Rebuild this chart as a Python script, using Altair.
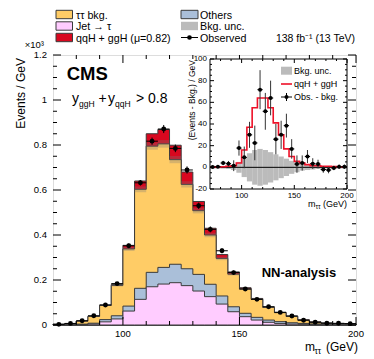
import altair as alt
import numpy as np
import pandas as pd

# ---------------- data ----------------
bin_low = [70, 75, 80, 85, 90, 95, 100, 105, 110, 115, 120, 125, 130,
           135, 140, 145, 150, 155, 160, 165, 170, 175, 180, 185, 190, 195]
bin_width = 5

# main panel, Events/GeV x 10^3 (per component)
tt_bkg = [0.002, 0.004, 0.013, 0.030, 0.063, 0.135, 0.254, 0.440, 0.561, 0.549,
          0.465, 0.375, 0.283, 0.219, 0.167, 0.145, 0.108, 0.080, 0.056, 0.040,
          0.028, 0.015, 0.008, 0.004, 0.003, 0.002]
jet_fakes = [0.0005, 0.001, 0.002, 0.004, 0.014, 0.027, 0.062, 0.114, 0.170, 0.182,
             0.188, 0.175, 0.151, 0.126, 0.093, 0.059, 0.037, 0.022, 0.012, 0.007,
             0.004, 0.003, 0.002, 0.001, 0.001, 0.001]
others = [0.0005, 0.001, 0.002, 0.004, 0.010, 0.014, 0.022, 0.049, 0.064, 0.074,
          0.082, 0.075, 0.074, 0.055, 0.036, 0.022, 0.015, 0.012, 0.010, 0.008,
          0.006, 0.004, 0.003, 0.003, 0.002, 0.002]
observed = [0.003, 0.007, 0.019, 0.041, 0.089, 0.184, 0.352, 0.632, 0.817, 0.871,
            0.785, 0.689, 0.530, 0.425, 0.330, 0.233, 0.160, 0.114, 0.081, 0.056,
            0.040, 0.021, 0.012, 0.008, 0.0075, 0.006]

# inset, Events/GeV
signal = [0.3, 0.4, 0.6, 1.0, 1.5, 4.0, 16, 37, 55, 64, 64, 55, 41, 30, 17, 10,
          5.5, 4, 2.5, 1.5, 1.5, 1, 1, 0.8, 0.6, 0.5]
obs_minus_bkg = [0.3, 0.6, 4, 3.4, 1.5, 17.8, 9.2, 30, 22.5, 71.7, 51.7, 64, 26,
                 30, 38.5, 17, 3, 4, 10, 3.4, 3, -2, -2.5, -0.6, 0.6, 0.6]
obs_err = [1, 1, 2, 2.5, 5, 7, 10, 12, 16, 18, 17, 16, 14, 13, 11, 9, 8, 7, 6, 5,
           4, 3, 3, 2, 2, 2]
bkg_unc = [1, 1, 1.2, 1.5, 2.5, 5, 9, 13, 16, 17, 16, 14, 12, 10, 8, 6, 4.5, 3,
           2.5, 2, 1.5, 1.2, 1, 1, 1, 1]

x_major = [100, 150, 200]
x_minor = [80, 90, 110, 120, 130, 140, 160, 170, 180, 190]
y_major = [0, 0.2, 0.4, 0.6, 0.8, 1, 1.2]
y_minor = [0.05, 0.1, 0.15, 0.25, 0.3, 0.35, 0.45, 0.5, 0.55, 0.65, 0.7, 0.75,
           0.85, 0.9, 0.95, 1.05, 1.1, 1.15]
in_y_major = [-20, 0, 20, 40, 60, 80, 100]
in_y_minor = [-15, -10, -5, 5, 10, 15, 25, 30, 35, 45, 50, 55, 65, 70, 75, 85, 90, 95]

legend_left = ["ττ bkg.", "Jet → τ", "qqH + ggH (μ=0.82)"]
legend_right = ["Others", "Bkg. unc.", "Observed"]
inset_legend = ["Bkg. unc.", "qqH + ggH", "Obs. - bkg."]

# ---------------- styles ----------------
FONT = "Liberation Sans"
C_TT = "#FFCC66"
C_JET = "#FFCCFF"
C_OTH = "#AABFD9"
C_SIG = "#D8081F"
C_UNC = "#BBBBBB"
C_LINE = "#3A3A3A"
W, H = 303, 270

# ---------------- tables ----------------
lo = np.array(bin_low, dtype=float)
hi = lo + bin_width
ctr = lo + bin_width / 2.0
c_jet = np.array(jet_fakes)
c_oth = c_jet + np.array(others)
c_tt = c_oth + np.array(tt_bkg)
c_sig = c_tt + np.array(signal) / 1000.0
obs = np.array(observed)
err = np.array(obs_err)
unc = np.array(bkg_unc)
dif = np.array(obs_minus_bkg)


def ext(a):
    return list(a) + [list(a)[-1]]


step_df = pd.DataFrame({
    "x": list(lo) + [200.0],
    "jet": ext(c_jet), "oth": ext(c_oth), "tt": ext(c_tt), "sig": ext(c_sig),
    "sig_in": ext(signal),
})
bins_df = pd.DataFrame({
    "lo": lo, "hi": hi, "c": ctr, "obs": obs,
    "e_lo": obs - err / 1000.0, "e_hi": obs + err / 1000.0,
    "b_lo": c_tt - unc / 1000.0, "b_hi": c_tt + unc / 1000.0,
    "d": dif, "d_lo": dif - err, "d_hi": dif + err,
    "u_lo": -unc, "u_hi": unc,
})
one = pd.DataFrame({"a": [0]})

xs = alt.Scale(domain=[70, 200], nice=False, zero=False)
ys = alt.Scale(domain=[0, 1.2], nice=False)
xi = alt.Scale(domain=[70, 200], range=[157, 294], nice=False, zero=False)
yi = alt.Scale(domain=[-20, 100], range=[134, 4], nice=False, zero=False)


def fmt(v):
    return f"{v:g}"


def txt(s, x, y, size, align="left", baseline="alphabetic", bold=False, angle=0):
    return alt.Chart(pd.DataFrame({"t": [s]})).mark_text(
        align=align, baseline=baseline, fontSize=size, font=FONT,
        fontWeight="bold" if bold else "normal", angle=angle, color="black"
    ).encode(text="t:N", x=alt.value(x), y=alt.value(y))


def box(x0, x1, y0, y1, fill, stroke=None, sw=1):
    kw = dict(fill=fill)
    if stroke:
        kw.update(stroke=stroke, strokeWidth=sw)
    return alt.Chart(one).mark_rect(**kw).encode(
        x=alt.value(x0), x2=alt.value(x1), y=alt.value(y0), y2=alt.value(y1))


def vticks(vals, sc, y0, y1):
    return alt.Chart(pd.DataFrame({"v": vals})).mark_rule(color="black", strokeWidth=1).encode(
        x=alt.X("v:Q", scale=sc, axis=None), y=alt.value(y0), y2=alt.value(y1))


def hticks(vals, sc, x0, x1):
    return alt.Chart(pd.DataFrame({"v": vals})).mark_rule(color="black", strokeWidth=1).encode(
        y=alt.Y("v:Q", scale=sc, axis=None), x=alt.value(x0), x2=alt.value(x1))


def xlabels(vals, sc, ypos, size):
    df = pd.DataFrame({"v": vals, "t": [fmt(v) for v in vals]})
    return alt.Chart(df).mark_text(align="center", baseline="top", fontSize=size,
                                   font=FONT, color="black").encode(
        x=alt.X("v:Q", scale=sc, axis=None), y=alt.value(ypos), text="t:N")


def ylabels(vals, sc, xpos, size):
    df = pd.DataFrame({"v": vals, "t": [fmt(v) for v in vals]})
    return alt.Chart(df).mark_text(align="right", baseline="middle", fontSize=size,
                                   font=FONT, color="black").encode(
        y=alt.Y("v:Q", scale=sc, axis=None), x=alt.value(xpos), text="t:N")


# ---------------- main panel ----------------
def stack_area(col, color):
    return alt.Chart(step_df).mark_area(
        interpolate="step-after", fill=color, stroke=C_LINE, strokeWidth=1
    ).encode(
        x=alt.X("x:Q", scale=xs, axis=None),
        y=alt.Y(f"{col}:Q", scale=ys, axis=None),
    )


main_layers = [
    stack_area("sig", C_SIG),
    stack_area("tt", C_TT),
    stack_area("oth", C_OTH),
    stack_area("jet", C_JET),
    alt.Chart(bins_df).mark_rect(fill="#777777", opacity=0.3).encode(
        x=alt.X("lo:Q", scale=xs, axis=None), x2="hi:Q",
        y=alt.Y("b_lo:Q", scale=ys, axis=None), y2="b_hi:Q"),
    alt.Chart(bins_df).mark_rule(color="black", strokeWidth=1).encode(
        x=alt.X("lo:Q", scale=xs, axis=None), x2="hi:Q",
        y=alt.Y("obs:Q", scale=ys, axis=None)),
    alt.Chart(bins_df).mark_rule(color="black", strokeWidth=1).encode(
        x=alt.X("c:Q", scale=xs, axis=None),
        y=alt.Y("e_lo:Q", scale=ys, axis=None), y2="e_hi:Q"),
    alt.Chart(bins_df).mark_circle(color="black", size=24, opacity=1).encode(
        x=alt.X("c:Q", scale=xs, axis=None),
        y=alt.Y("obs:Q", scale=ys, axis=None)),
    vticks(x_major, xs, H, H - 8), vticks(x_minor, xs, H, H - 4),
    vticks(x_major, xs, 0, 8), vticks(x_minor, xs, 0, 4),
    hticks(y_major, ys, 0, 8), hticks(y_minor, ys, 0, 4),
    hticks(y_major, ys, W - 8, W), hticks(y_minor, ys, W - 4, W),
    xlabels(x_major, xs, H + 3.5, 9.5),
    ylabels(y_major, ys, -6, 9.5),
]

# legend (top)
rows = [-40.5, -29, -17.5]
left_colors = [C_TT, C_JET, C_SIG]
for i, (lab, col) in enumerate(zip(legend_left, left_colors)):
    main_layers.append(box(3, 19.5, rows[i] - 4.2, rows[i] + 4.2, col, C_LINE))
    main_layers.append(txt(lab, 23, rows[i] + 4, 10.7))
main_layers.append(box(128, 145, rows[0] - 4.2, rows[0] + 4.2, C_OTH, C_LINE))
main_layers.append(box(128, 145, rows[1] - 4.2, rows[1] + 4.2, C_UNC))
main_layers.append(alt.Chart(one).mark_rule(color="black", strokeWidth=1).encode(
    x=alt.value(128), x2=alt.value(145), y=alt.value(rows[2])))
main_layers.append(alt.Chart(one).mark_circle(color="black", size=22, opacity=1).encode(
    x=alt.value(136.5), y=alt.value(rows[2])))
for i, lab in enumerate(legend_right):
    main_layers.append(txt(lab, 147, rows[i] + 4, 10.7))
main_layers.append(txt("138 fb⁻¹ (13 TeV)", 302, rows[2] + 4, 10.5, align="right"))
main_layers.append(txt("×10³", -9, -7, 9.5, align="right"))

# titles and labels
main_layers += [
    txt("Events / GeV", -32, 3, 12, align="right", baseline="middle", angle=270),
    txt("CMS", 13.7, 25, 18.5, bold=True),
    txt("y", 19, 48, 14), txt("ggH", 26, 52, 8.5),
    txt("+", 45.5, 48, 14), txt("y", 55, 48, 14), txt("qqH", 62, 52, 8.5),
    txt("> 0.8", 83, 48, 14),
    txt("NN-analysis", 208.7, 222, 13, bold=True),
    txt("m", 252, 296, 12), txt("ττ", 261.5, 299, 8.5),
    txt("(GeV)", 305, 296, 12, align="right"),
]
main = alt.layer(*main_layers)

# ---------------- inset ----------------
inset_layers = [
    box(157, 294, 4, 134, "white"),
    alt.Chart(bins_df).mark_rect(fill=C_UNC).encode(
        x=alt.X("lo:Q", scale=xi, axis=None), x2="hi:Q",
        y=alt.Y("u_lo:Q", scale=yi, axis=None), y2="u_hi:Q"),
    alt.Chart(pd.DataFrame({"v": [0]})).mark_rule(color="black", strokeWidth=1).encode(
        y=alt.Y("v:Q", scale=yi, axis=None), x=alt.value(157), x2=alt.value(294)),
    alt.Chart(step_df).mark_line(interpolate="step-after", color="#EE1128", strokeWidth=1.6).encode(
        x=alt.X("x:Q", scale=xi, axis=None), y=alt.Y("sig_in:Q", scale=yi, axis=None)),
    alt.Chart(bins_df).mark_rule(color="#333333", strokeWidth=1).encode(
        x=alt.X("c:Q", scale=xi, axis=None),
        y=alt.Y("d_lo:Q", scale=yi, axis=None), y2="d_hi:Q"),
    alt.Chart(bins_df).mark_rule(color="black", strokeWidth=1).encode(
        x=alt.X("lo:Q", scale=xi, axis=None), x2="hi:Q",
        y=alt.Y("d:Q", scale=yi, axis=None)),
    alt.Chart(bins_df).mark_circle(color="black", size=16, opacity=1).encode(
        x=alt.X("c:Q", scale=xi, axis=None), y=alt.Y("d:Q", scale=yi, axis=None)),
    vticks(x_major, xi, 134, 130), vticks(x_minor, xi, 134, 132),
    vticks(x_major, xi, 4, 8), vticks(x_minor, xi, 4, 6),
    hticks(in_y_major, yi, 157, 161), hticks(in_y_minor, yi, 157, 159),
    hticks(in_y_major, yi, 290, 294), hticks(in_y_minor, yi, 292, 294),
    box(157, 294, 4, 134, "transparent", "black"),
    xlabels(x_major, xi, 136.5, 8),
    ylabels(in_y_major, yi, 154, 8),
    # inset legend
    box(228, 239, 11.7, 19.7, C_UNC),
    alt.Chart(one).mark_rule(color="#EE1128", strokeWidth=1.6).encode(
        x=alt.value(228), x2=alt.value(239), y=alt.value(29)),
    alt.Chart(one).mark_rule(color="black", strokeWidth=1).encode(
        x=alt.value(228), x2=alt.value(239), y=alt.value(42)),
    alt.Chart(one).mark_rule(color="black", strokeWidth=1).encode(
        x=alt.value(233.5), y=alt.value(38), y2=alt.value(46)),
    alt.Chart(one).mark_circle(color="black", size=16, opacity=1).encode(
        x=alt.value(233.5), y=alt.value(42)),
    txt(inset_legend[0], 241, 18.8, 9), txt(inset_legend[1], 241, 32.2, 9),
    txt(inset_legend[2], 241, 45.2, 9),
    txt("(Events - Bkg.) / GeV", 139, 5, 8.5, align="right", baseline="middle", angle=270),
    txt("m", 255, 152, 9), txt("ττ", 262.5, 154, 6.5),
    txt("(GeV)", 294, 152, 9, align="right"),
]
inset = alt.layer(*inset_layers)

chart = alt.layer(main, inset).resolve_scale(x="independent", y="independent").properties(
    width=W, height=H,
    padding={"left": 45, "top": 47, "right": 10, "bottom": 30},
    autosize=alt.AutoSizeParams(type="none"),
).configure_view(stroke="black", strokeWidth=1).configure(background="white")

chart.save("out.html", embed_options={"renderer": "svg", "actions": False})
